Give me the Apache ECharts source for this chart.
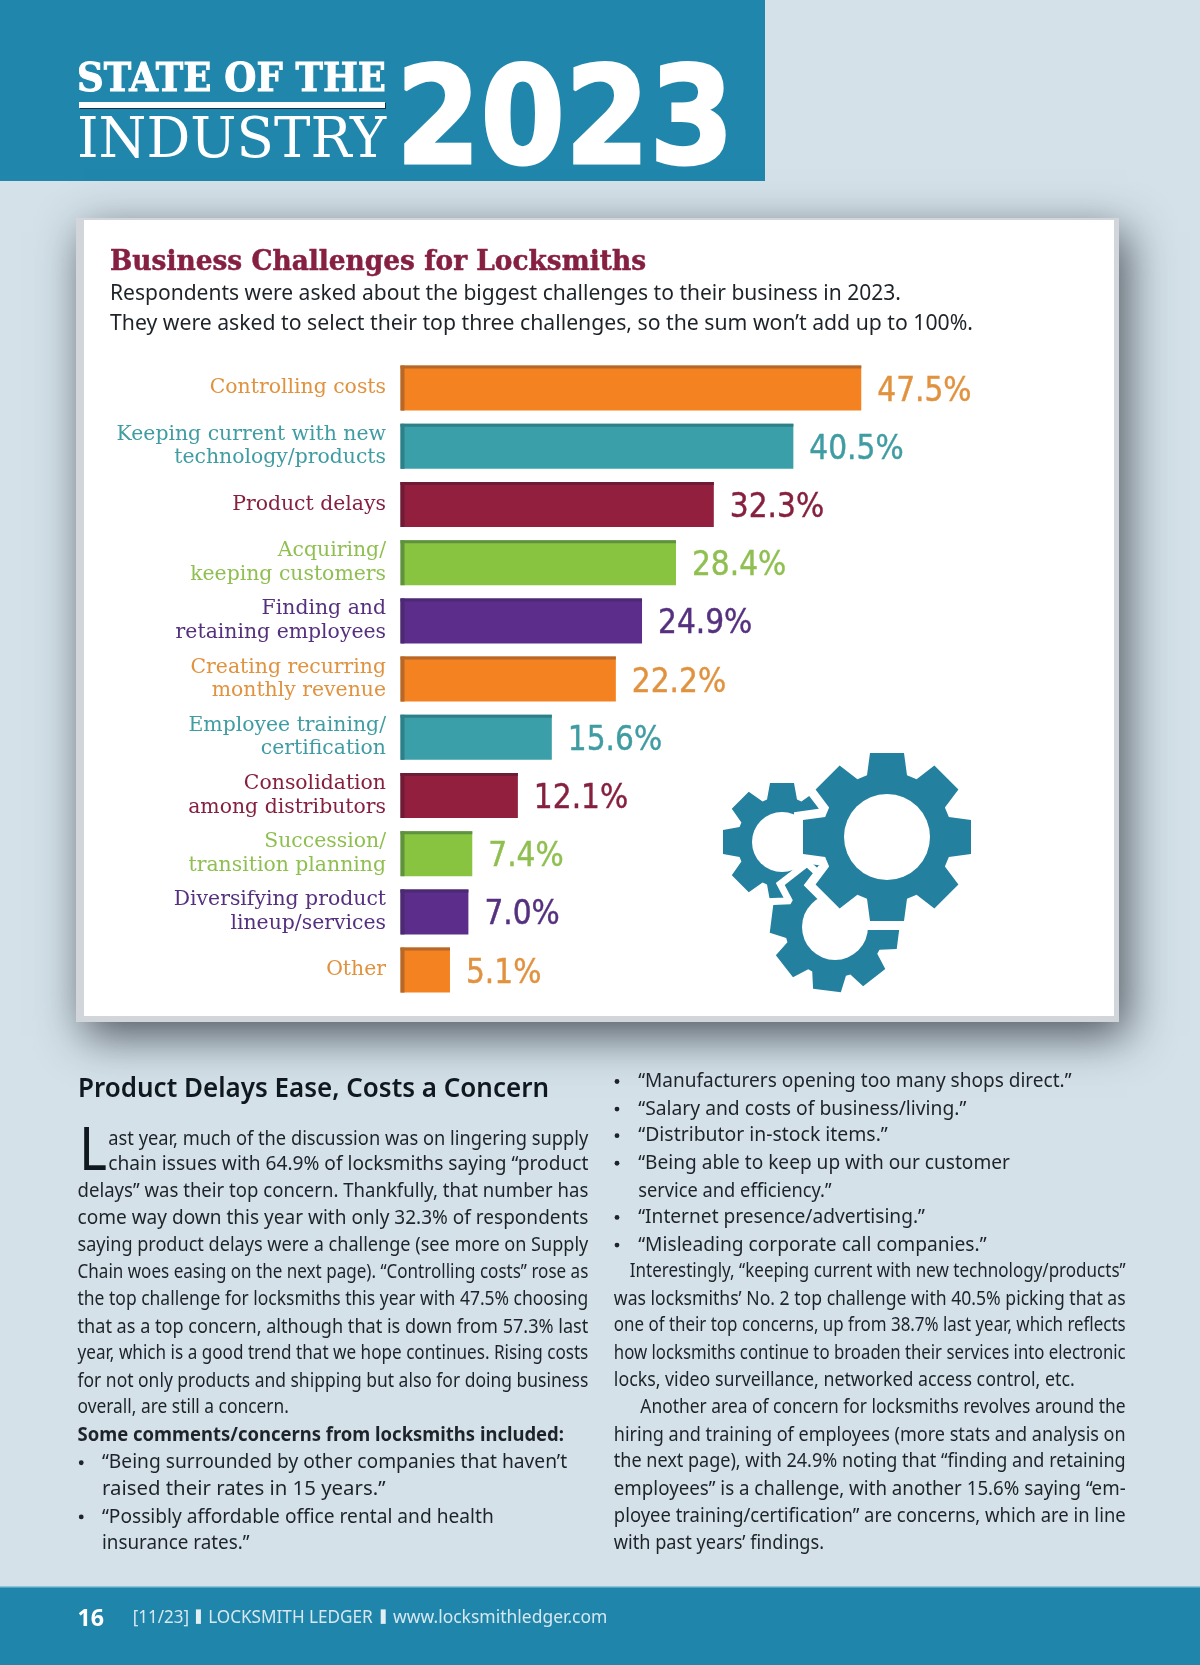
<!DOCTYPE html>
<html><head><meta charset="utf-8">
<style>html,body{margin:0;padding:0;background:#d4e1e9}#c{width:1200px;height:1665px}</style>
<script src="https://cdn.jsdelivr.net/npm/echarts@6/dist/echarts.min.js"></script>
</head><body><div id="c"></div>
<script>
const categories = ["Controlling costs","Keeping current with new\ntechnology/products","Product delays","Acquiring/\nkeeping customers","Finding and\nretaining employees","Creating recurring\nmonthly revenue","Employee training/\ncertification","Consolidation\namong distributors","Succession/\ntransition planning","Diversifying product\nlineup/services","Other"];
const values = [47.5,40.5,32.3,28.4,24.9,22.2,15.6,12.1,7.4,7.0,5.1];
const barColors = ["#f58220","#3a9fa8","#931f3f","#88c440","#5c2d8a"];
const edgeColors = ["#b4682c","#2f7f88","#6e1c36","#5f9140","#4b2a72"];
const textColors = ["#e0923f","#3f9ca2","#86203f","#8fbf50","#55307f"];

const headerLines = ["STATE OF THE","INDUSTRY","2023"];
const chartTitle = "Business Challenges for Locksmiths";
const chartSub = ["Respondents were asked about the biggest challenges to their business in 2023.","They were asked to select their top three challenges, so the sum won’t add up to 100%."];
const articleHead = "Product Delays Ease, Costs a Concern";
const leftLines = ["ast year, much of the discussion was on lingering supply","chain issues with 64.9% of locksmiths saying “product","delays” was their top concern. Thankfully, that number has","come way down this year with only 32.3% of respondents","saying product delays were a challenge (see more on Supply","Chain woes easing on the next page). “Controlling costs” rose as","the top challenge for locksmiths this year with 47.5% choosing","that as a top concern, although that is down from 57.3% last","year, which is a good trend that we hope continues. Rising costs","for not only products and shipping but also for doing business","overall, are still a concern.","Some comments/concerns from locksmiths included:","“Being surrounded by other companies that haven’t","raised their rates in 15 years.”","“Possibly affordable office rental and health","insurance rates.”"];
const rightLines = ["“Manufacturers opening too many shops direct.”","“Salary and costs of business/living.”","“Distributor in-stock items.”","“Being able to keep up with our customer","service and efficiency.”","“Internet presence/advertising.”","“Misleading corporate call companies.”","Interestingly, “keeping current with new technology/products”","was locksmiths’ No. 2 top challenge with 40.5% picking that as","one of their top concerns, up from 38.7% last year, which reflects","how locksmiths continue to broaden their services into electronic","locks, video surveillance, networked access control, etc.","Another area of concern for locksmiths revolves around the","hiring and training of employees (more stats and analysis on","the next page), with 24.9% noting that “finding and retaining","employees” is a challenge, with another 15.6% saying “em-","ployee training/certification” are concerns, which are in line","with past years’ findings."];
const footerParts = ["16","[11/23]","LOCKSMITH LEDGER","www.locksmithledger.com"];

/* layout (in the reference's reading scale) */
const k = 1200/1130;
const leftSpan = [[102,554],[102,554],[73,554],[73,554],[73,554],[73,554],[73,554],[73,554],[73,554],[73,554],[73,272],[73,531],[96,534],[96,363],[96,465],[96,235]];
const leftY = [1071,1095,1120,1146,1171,1197,1222,1248,1273,1299,1324,1350,1376,1401,1427,1452];
const rightSpan = [[601,1009],[601,910],[601,836],[601,951],[601,783],[601,871],[601,929],[593,1060],[578,1060],[578,1060],[578,1060],[578,1012],[603,1060],[578,1060],[578,1060],[578,1060],[578,1060],[578,776]];
const rightY = [1017,1043,1068,1094,1120,1145,1171,1196,1222,1247,1273,1298,1324,1350,1375,1401,1426,1452];

const mc = document.createElement('canvas').getContext('2d');
function fit(text,x1,x2,cy,font,fill,extra){
  mc.font = font;
  const w = mc.measureText(text).width;
  return {type:'text',x:x1,y:cy,scaleX:(x2-x1)/w,silent:true,z:20,
    style:Object.assign({text:text,font:font,fill:fill,textAlign:'left',textVerticalAlign:'middle'},extra||{})};
}
function gearPoints(cx,cy,ro,ri,teeth,rot,halfOut,halfIn){
  const pts=[];
  for(let i=0;i<teeth;i++){
    const a=rot+i*2*Math.PI/teeth, c=Math.cos(a), s=Math.sin(a);
    const P=(u,v)=>[cx+u*c-v*s,cy+u*s+v*c];
    const ri2=Math.sqrt(Math.max(ri*ri-halfIn*halfIn,0));
    pts.push(P(ri2,-halfIn),P(ro,-halfOut),P(ro,halfOut),P(ri2,halfIn));
  }
  return pts;
}
const gearColor="#24809f";
function gear(cx,cy,ro,ri,hole,teeth,rot,ho,hi,halo){
  const pts=gearPoints(cx,cy,ro,ri,teeth,rot,ho,hi), out=[];
  if(halo) out.push({type:'polygon',silent:true,z:10,shape:{points:pts},style:{fill:'#fff',stroke:'#fff',lineWidth:halo,lineJoin:'miter'}});
  out.push({type:'polygon',silent:true,z:10,shape:{points:pts},style:{fill:gearColor}});
  out.push({type:'circle',silent:true,z:10,shape:{cx:cx,cy:cy,r:hole},style:{fill:'#fff'}});
  return out;
}

const g = [];
const rect=(x,y,w,h,fill,extra)=>({type:'rect',silent:true,z:1,shape:{x,y,width:w,height:h},style:Object.assign({fill},extra||{})});
g.push(rect(0,0,765,181,'#2186ab'));
g.push(rect(0,1587,1200,78,'#1f85ab'));
g.push(rect(0,1586,1200,1.5,'#8fc3da'));
g.push(rect(76,218,1043,804,'#d2d6da',{shadowBlur:42,shadowColor:'rgba(45,52,60,.8)',shadowOffsetY:14,shadowOffsetX:8}));
g.push(rect(84,220,1030,796,'#ffffff'));

const shadow={shadowColor:'#0f3347',shadowOffsetX:2,shadowOffsetY:2,shadowBlur:0};
g.push(fit(headerLines[0],77,386,80.5,"bold 40px 'DejaVu Serif'",'#fff',Object.assign({stroke:'#fff',lineWidth:1},shadow)));
g.push(rect(79,102,306,6,'#fff',{shadowColor:'#0f3347',shadowOffsetX:1,shadowOffsetY:1}));
g.push(fit(headerLines[1],77,386,142,"56px 'DejaVu Serif'",'#fff',shadow));
g.push(fit(headerLines[2],396,734,127.5,"bold 136px 'DejaVu Sans'",'#fff',Object.assign({stroke:'#fff',lineWidth:3},shadow)));

g.push(fit(chartTitle,110,646,263,"bold 27px 'DejaVu Serif'",'#862041',{stroke:'#862041',lineWidth:0.5}));
g.push(fit(chartSub[0],110,901,293.5,"22px 'Noto Sans'",'#1d2328'));
g.push(fit(chartSub[1],110,973,323.5,"22px 'Noto Sans'",'#1d2328'));

g.push(fit(articleHead,78,549,1089,"600 27px 'Noto Sans'",'#10181f'));
g.push(fit("L",79,107,1153,"60px 'Noto Sans'",'#10181f'));
leftLines.forEach((t,i)=>{
  g.push(fit(t,leftSpan[i][0]*k,leftSpan[i][1]*k,leftY[i]*k+1.5,(i===11?"bold ":"")+"20px 'Noto Sans'",'#1d2328'));
});
rightLines.forEach((t,i)=>{
  g.push(fit(t,rightSpan[i][0]*k,rightSpan[i][1]*k,rightY[i]*k+1.5,"20px 'Noto Sans'",'#1d2328'));
});
const dot=(x,y)=>({type:'circle',silent:true,z:20,shape:{cx:x*k,cy:y*k+1.5,r:2.4},style:{fill:'#1d2328'}});
[1376,1427].forEach(y=>g.push(dot(76.5,y)));
[1017,1043,1068,1094,1145,1171].forEach(y=>g.push(dot(581,y)));

g.push(fit(footerParts[0],73*k,98*k,1523*k+1.5,"bold 24px 'Noto Sans'",'#ffffff'));
g.push(fit(footerParts[1],125*k,178*k,1522*k+2,"18px 'Noto Sans'",'#d7e8f0'));
g.push(fit(footerParts[2],196*k,351*k,1522*k+2,"18px 'Noto Sans'",'#d7e8f0'));
g.push(fit(footerParts[3],370*k,572*k,1522*k+2,"18px 'Noto Sans'",'#d7e8f0'));
[184.5,358.5].forEach(x=>g.push(Object.assign(rect(x*k,1515.5*k,5,14.5,'#e4eff4'),{z:20})));

g.push(...gear(782,842,59,45,30,8,0,12,15,0));
g.push(...gear(835,927,64,50,33,8,0.126,14,17,14));
g.push(...gear(887,837,84,65,43,8,0,17,20,18));

const chart = echarts.init(document.getElementById('c'),null,{renderer:'canvas',width:1200,height:1665});
const BAR_H = 45;
chart.setOption({
  animation:false,
  backgroundColor:'#d4e1e9',
  grid:{left:400.5,top:359,width:485,height:640.2,containLabel:false},
  xAxis:{type:'value',min:0,max:50,show:false},
  yAxis:{type:'category',inverse:true,data:categories,z:5,
    axisLine:{show:false},axisTick:{show:false},
    axisLabel:{margin:14.5,align:'right',fontFamily:"'DejaVu Serif'",fontSize:20.4,lineHeight:23.7,interval:0,padding:[2,0,0,0],
      color:(v,i)=>textColors[i%5]}},
  series:[
    {type:'bar',z:5,data:values.map((v,i)=>({value:v,itemStyle:{color:barColors[i%5]},
        label:{color:textColors[i%5],textBorderColor:textColors[i%5]}})),
      barWidth:BAR_H,
      label:{show:true,position:'right',distance:16,offset:[0,4],fontFamily:"'DejaVu Sans Condensed','Liberation Sans'",fontSize:33,textBorderWidth:0.4,
        formatter:p=>p.value.toFixed(1)+'%'}},
    {type:'custom',z:6,silent:true,
      data:values.map((v,i)=>[v,i]),
      encode:{x:0,y:1},
      renderItem:(params,api)=>{
        const a=api.coord([0,api.value(1)]), b=api.coord([api.value(0),api.value(1)]);
        const y=a[1]-BAR_H/2, x=a[0], c=edgeColors[params.dataIndex%5];
        return {type:'group',children:[
          {type:'rect',shape:{x,y,width:b[0]-x,height:3},style:{fill:c}},
          {type:'rect',shape:{x,y,width:4,height:BAR_H},style:{fill:c}}
        ]};
      }}
  ],
  graphic:{elements:g}
});
</script></body></html>
